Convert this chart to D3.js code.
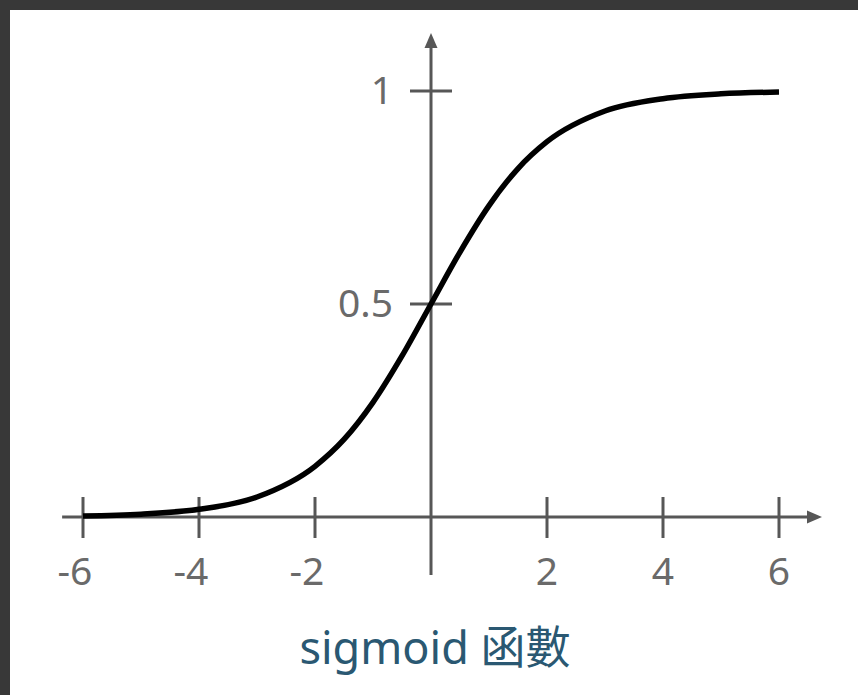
<!DOCTYPE html>
<html>
<head>
<meta charset="utf-8">
<script src="https://cdn.jsdelivr.net/npm/d3@7"></script>
<style>
  html, body { margin: 0; padding: 0; background: #383838; }
  svg { display: block; }
</style>
</head>
<body>
<svg id="chart" width="858" height="695"></svg>
<script>
// values
const xValues = [-6, -5, -4, -3, -2, -1.5, -1, -0.5, 0, 0.5, 1, 1.5, 2, 3, 4, 5, 6];
const yValues = [0.0025, 0.0067, 0.018, 0.047, 0.119, 0.182, 0.269, 0.378, 0.5, 0.622, 0.731, 0.818, 0.881, 0.953, 0.982, 0.9933, 0.9975];
const xTicks = [-6, -4, -2, 2, 4, 6];
const yTicks = [0.5, 1];
const yTickLabels = ["0.5", "1"];
const title = "sigmoid 函數";

const d3 = window.d3;
const svgEl = document.getElementById("chart");
const width = 858, height = 695;
const svg = d3.select(svgEl).attr("viewBox", `0 0 ${width} ${height}`);

// dark frame on top/left, white panel
svg.append("rect")
  .attr("x", 10).attr("y", 10)
  .attr("width", width - 10).attr("height", height - 10)
  .attr("fill", "#ffffff");

const x = d3.scaleLinear().domain([-6, 6]).range([83, 779]);
const y = d3.scaleLinear().domain([0, 1]).range([517, 91]);

const axisColor = "#575757";
const labelColor = "#6a6a6a";
const font = "'Noto Sans', 'Noto Sans CJK TC', sans-serif";

const g = svg.append("g");

// x axis line + arrow
const xEnd = x.invert(822);
g.append("line")
  .attr("x1", x(-6.36)).attr("x2", x(xEnd) - 6)
  .attr("y1", y(0)).attr("y2", y(0))
  .attr("stroke", axisColor).attr("stroke-width", 3);
g.append("path")
  .attr("d", `M${x(xEnd)},${y(0)} L${x(xEnd) - 15},${y(0) - 6.5} L${x(xEnd) - 15},${y(0) + 6.5} Z`)
  .attr("fill", axisColor);

// y axis line + arrow
const yTop = y.invert(33);
g.append("line")
  .attr("x1", x(0)).attr("x2", x(0))
  .attr("y1", y(y.invert(575))).attr("y2", y(yTop) + 6)
  .attr("stroke", axisColor).attr("stroke-width", 3);
g.append("path")
  .attr("d", `M${x(0)},${y(yTop)} L${x(0) - 6.5},${y(yTop) + 15} L${x(0) + 6.5},${y(yTop) + 15} Z`)
  .attr("fill", axisColor);

// x ticks (cross the axis)
g.selectAll("line.xtick")
  .data(xTicks)
  .enter()
  .append("line")
  .attr("class", "xtick")
  .attr("x1", (d) => x(d)).attr("x2", (d) => x(d))
  .attr("y1", y(0) - 20).attr("y2", y(0) + 21)
  .attr("stroke", axisColor).attr("stroke-width", 3);

g.selectAll("text.xlabel")
  .data(xTicks)
  .enter()
  .append("text")
  .attr("class", "xlabel")
  .attr("x", (d) => x(d) + (d < 0 ? -8 : 0))
  .attr("y", 585)
  .attr("text-anchor", "middle")
  .attr("fill", labelColor)
  .attr("font-family", font)
  .attr("font-size", 39)
  .text((d) => String(d));

// y ticks
g.selectAll("line.ytick")
  .data(yTicks)
  .enter()
  .append("line")
  .attr("class", "ytick")
  .attr("x1", x(0) - 21).attr("x2", x(0) + 21)
  .attr("y1", (d) => y(d)).attr("y2", (d) => y(d))
  .attr("stroke", axisColor).attr("stroke-width", 3);

g.selectAll("text.ylabel")
  .data(yTicks)
  .enter()
  .append("text")
  .attr("class", "ylabel")
  .attr("x", x(0) - 38)
  .attr("y", (d) => y(d) + 13)
  .attr("text-anchor", "end")
  .attr("fill", labelColor)
  .attr("font-family", font)
  .attr("font-size", 39)
  .text((d, i) => yTickLabels[i]);

// curve
const points = xValues.map((v, i) => ({ x: v, y: yValues[i] }));
const line = d3.line()
  .x((d) => x(d.x))
  .y((d) => y(d.y))
  .curve(d3.curveMonotoneX);

g.append("path")
  .datum(points)
  .attr("fill", "none")
  .attr("stroke", "#000000")
  .attr("stroke-width", 5.5)
  .attr("d", line);

// title
svg.append("text")
  .attr("x", 435)
  .attr("y", 664)
  .attr("text-anchor", "middle")
  .attr("fill", "#2a5872")
  .attr("font-family", font)
  .attr("font-size", 45)
  .text(title);
</script>
</body>
</html>
